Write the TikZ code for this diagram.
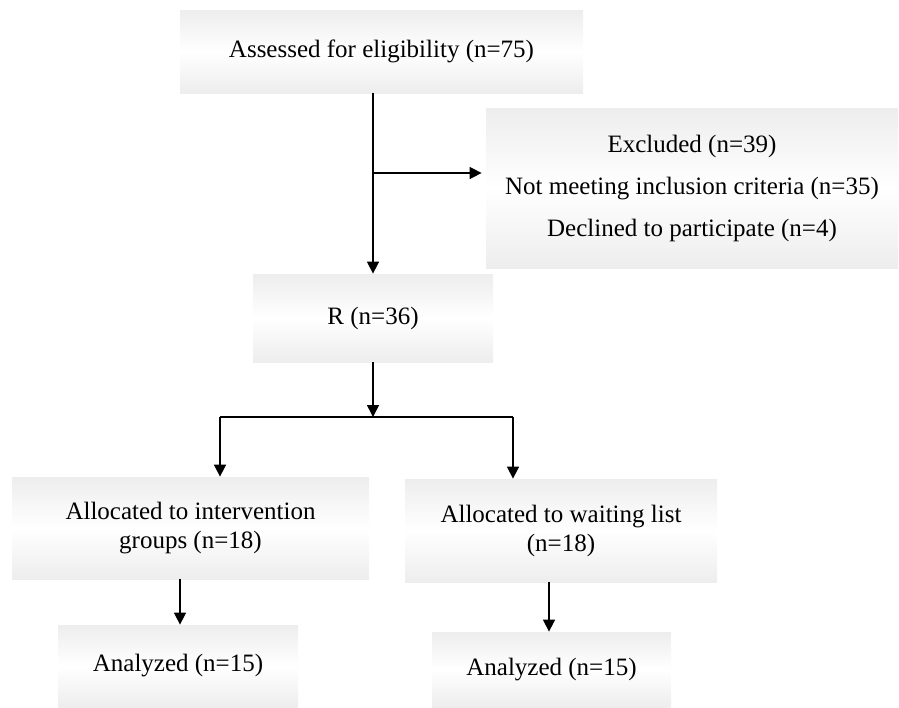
\documentclass[tikz,border=0pt]{standalone}
\usepackage{fontspec}
\setmainfont{Liberation Serif}
\usepackage{tikz}
\usetikzlibrary{calc}
\usetikzlibrary{arrows.meta}
\usetikzlibrary{positioning}
\tikzset{stage/.style={rectangle,inner sep=0pt,top color=black!7,bottom color=black!7,middle color=white,align=center,font=\fontsize{12.5}{14.5}\selectfont}}
\tikzset{flow/.style={line width=0.8pt,-{Triangle[length=6pt,width=6pt]}}}
\tikzset{plain/.style={line width=0.8pt}}

\begin{document}
\begin{tikzpicture}[x=0.5pt,y=-0.5pt]
\useasboundingbox (0,0) rectangle (899,707);

\node (assess) at (381.5,51.5) [stage,minimum width=201.5pt,minimum height=41.5pt] {Assessed for eligibility (n=75)};
\node (excl) at (692,188) [stage,minimum width=206pt,minimum height=80pt,font=\fontsize{12.5}{21}\selectfont] {Excluded (n=39)\\Not meeting inclusion criteria (n=35)\\Declined to participate (n=4)};
\node (rand) at (373,318) [stage,minimum width=120pt,minimum height=44pt] {R (n=36)};
\node (alloci) at (190.5,528) [stage,minimum width=178.5pt,minimum height=51pt] {Allocated to intervention\\groups (n=18)};
\node (allocw) at (561,530.5) [stage,minimum width=156pt,minimum height=51.5pt] {Allocated to waiting list\\(n=18)};
\node (anai) at (178,666) [stage,minimum width=120pt,minimum height=41pt] {Analyzed (n=15)};
\node (anaw) at (551.5,669.5) [stage,minimum width=119.5pt,minimum height=37.5pt] {Analyzed (n=15)};

\coordinate (br) at (373,173);
\coordinate (split) at (373,417);
\coordinate (sl) at (220,417);
\coordinate (sr) at (513,417);

\draw[flow] (assess.south -| rand) -- (rand.north);
\draw[flow,shorten >=2pt] (br) -- (br -| excl.west);
\draw[flow] (rand.south) -- (split);
\draw[plain] (sl) -- (sr);
\draw[flow] (sl) -- (sl |- alloci.north);
\draw[flow] (sr) -- (sr |- allocw.north);
\draw[flow] ($ (alloci.south -| anai) + (2,0) $) -- ($ (anai.north) + (2,0) $);
\draw[flow] ($ (allocw.south -| anaw) + (-2.5,0) $) -- ($ (anaw.north) + (-2.5,0) $);

\end{tikzpicture}
\end{document}
